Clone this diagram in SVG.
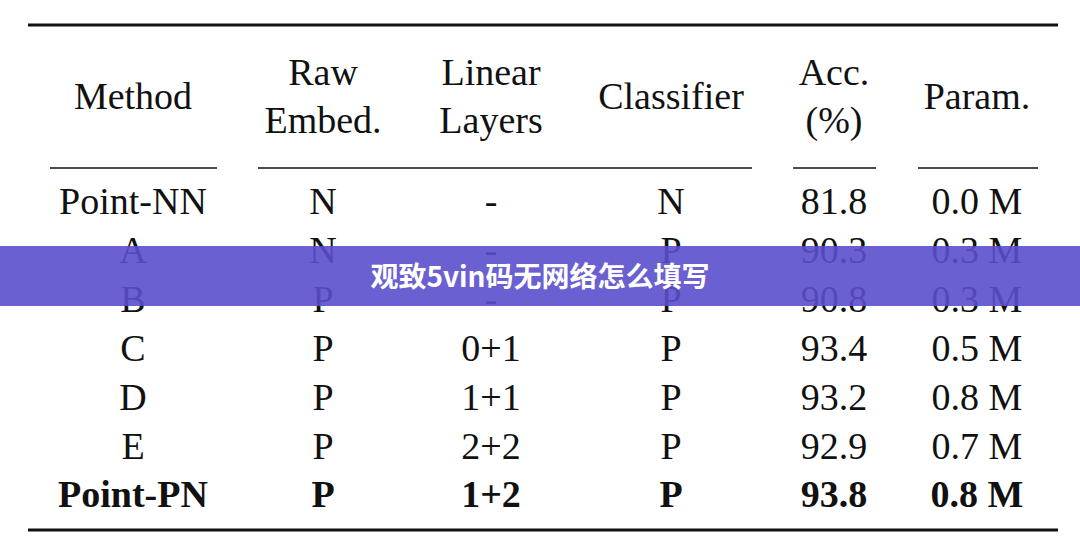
<svg xmlns="http://www.w3.org/2000/svg" width="1080" height="554" viewBox="0 0 1080 554">
<style>
text{font-family:"Liberation Serif",serif;font-size:38px;fill:#111;text-anchor:middle}
.b{font-weight:bold}
.r{stroke:#111}
.ban{font-family:"Noto Sans CJK SC","Noto Sans",sans-serif;font-size:28px;font-weight:bold;fill:#fff}
</style>
<rect width="1080" height="554" fill="#fff"/>
<g id="rules">
<line class="r" x1="28" y1="25" x2="1058" y2="25" stroke-width="3"/>
<line class="r" x1="50" y1="168" x2="217" y2="168" stroke-width="1.5"/>
<line class="r" x1="258" y1="168" x2="752" y2="168" stroke-width="1.5"/>
<line class="r" x1="793" y1="168" x2="876" y2="168" stroke-width="1.5"/>
<line class="r" x1="918" y1="168" x2="1038" y2="168" stroke-width="1.5"/>
<line class="r" x1="28" y1="530" x2="1058" y2="530" stroke-width="3"/>
</g>
<g id="header">
<text x="133" y="109">Method</text>
<text x="323" y="85">Raw</text><text x="323" y="133">Embed.</text>
<text x="491" y="85">Linear</text><text x="491" y="133">Layers</text>
<text x="671" y="109">Classifier</text>
<text x="834" y="85">Acc.</text><text x="834" y="133">(%)</text>
<text x="977" y="109">Param.</text>
</g>
<g id="rows">
<text x="133" y="214">Point-NN</text><text x="323" y="214">N</text><text x="491" y="214">-</text><text x="671" y="214">N</text><text x="834" y="214">81.8</text><text x="977" y="214">0.0 M</text>
<text x="133" y="263">A</text><text x="323" y="263">N</text><text x="491" y="263">-</text><text x="671" y="263">P</text><text x="834" y="263">90.3</text><text x="977" y="263">0.3 M</text>
<text x="133" y="312">B</text><text x="323" y="312">P</text><text x="491" y="312">-</text><text x="671" y="312">P</text><text x="834" y="312">90.8</text><text x="977" y="312">0.3 M</text>
<text x="133" y="361">C</text><text x="323" y="361">P</text><text x="491" y="361">0+1</text><text x="671" y="361">P</text><text x="834" y="361">93.4</text><text x="977" y="361">0.5 M</text>
<text x="133" y="410">D</text><text x="323" y="410">P</text><text x="491" y="410">1+1</text><text x="671" y="410">P</text><text x="834" y="410">93.2</text><text x="977" y="410">0.8 M</text>
<text x="133" y="459">E</text><text x="323" y="459">P</text><text x="491" y="459">2+2</text><text x="671" y="459">P</text><text x="834" y="459">92.9</text><text x="977" y="459">0.7 M</text>
<text class="b" x="133" y="507">Point-PN</text><text class="b" x="323" y="507">P</text><text class="b" x="491" y="507">1+2</text><text class="b" x="671" y="507">P</text><text class="b" x="834" y="507">93.8</text><text class="b" x="977" y="507">0.8 M</text>
</g>
<g id="banner">
<rect x="0" y="246" width="1080" height="60" fill="#5b4fcc" fill-opacity="0.9"/>
<text class="ban" x="540" y="287">观致5vin码无网络怎么填写</text>
</g>
</svg>
